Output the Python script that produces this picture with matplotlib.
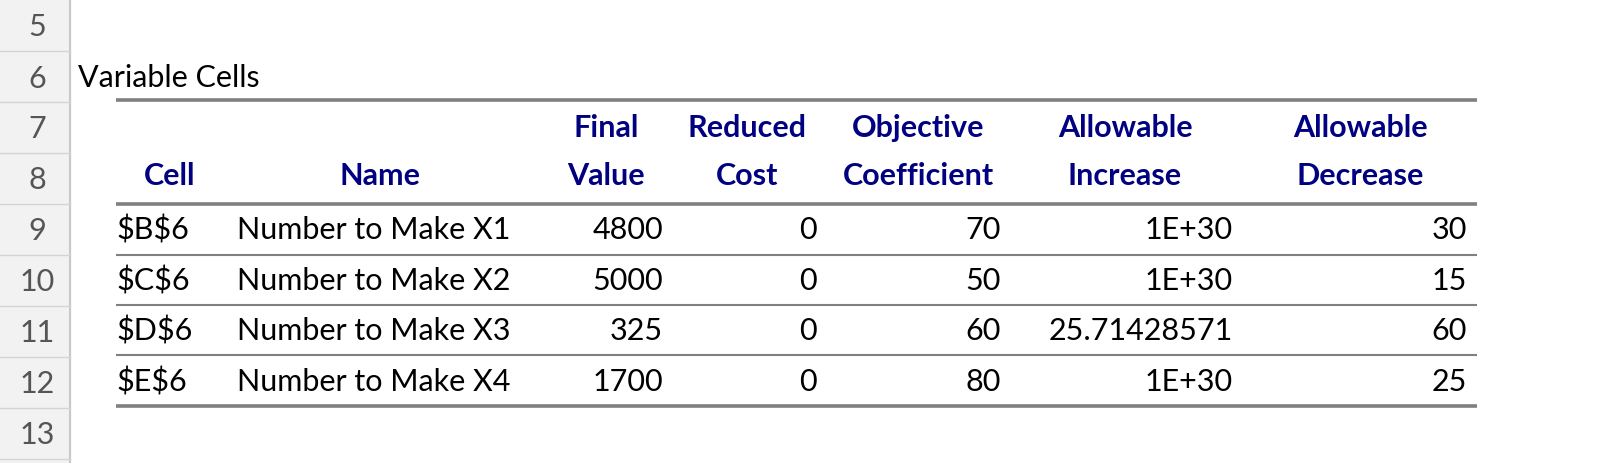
import matplotlib
matplotlib.use("Agg")
import matplotlib.pyplot as plt

row_numbers = [5, 6, 7, 8, 9, 10, 11, 12, 13]
cells = [r"\$B\$6", r"\$C\$6", r"\$D\$6", r"\$E\$6"]
names = ["Number to Make X1", "Number to Make X2", "Number to Make X3", "Number to Make X4"]
final_value = ["4800", "5000", "325", "1700"]
reduced_cost = ["0", "0", "0", "0"]
objective_coef = ["70", "50", "60", "80"]
allow_increase = ["1E+30", "1E+30", "25.71428571", "1E+30"]
allow_decrease = ["30", "15", "60", "25"]
headers1 = ["", "", "Final", "Reduced", "Objective", "Allowable", "Allowable"]
headers2 = ["Cell", "Name", "Value", "Cost", "Coefficient", "Increase", "Decrease"]

plt.rcParams['font.family'] = ['Lato', 'DejaVu Sans']
fig = plt.figure(figsize=(16.15, 4.64), dpi=100)
ax = fig.add_axes([0, 0, 1, 1])
ax.set_xlim(0, 1615); ax.set_ylim(464, 0); ax.axis('off')

fs = 22
ax.axvspan(0, 70, color='#f2f2f2', zorder=0)
ax.plot([70, 70], [0, 464], color='#c8c8c8', lw=1.5)
row_h = 51
top = 1
for i, rn in enumerate(row_numbers):
    yb = top + (i + 1) * row_h
    ax.plot([0, 70], [yb, yb], color='#d4d4d4', lw=1)
    ax.text(37, top + i * row_h + row_h / 2 + 1, str(rn), ha='center', va='center', fontsize=fs, color='#555555')

ax.text(78, 78, "Variable Cells", ha='left', va='center', fontsize=fs, color='black')

x0, x1 = 116, 1477
ax.plot([x0, x1], [101, 101], color='#808080', lw=2.6, solid_capstyle='butt')
ax.plot([x0, x1], [205, 205], color='#808080', lw=2.6, solid_capstyle='butt')
ax.plot([x0, x1], [407, 407], color='#808080', lw=2.6, solid_capstyle='butt')
for y in [256, 306, 356]:
    ax.plot([x0, x1], [y, y], color='#808080', lw=1.5, solid_capstyle='butt')

hx = [170, 380, 606, 747, 918, 1125, 1360]
navy = '#000080'
for x, h1, h2 in zip(hx, headers1, headers2):
    if h1:
        ax.text(x, 128, h1, ha='center', va='center', fontsize=fs, color=navy, fontweight='bold')
    ax.text(x, 176, h2, ha='center', va='center', fontsize=fs, color=navy, fontweight='bold')

ys = [230, 281, 331, 382]
cols = [final_value, reduced_cost, objective_coef, allow_increase, allow_decrease]
rights = [663, 817, 1001, 1233, 1467]
for i, y in enumerate(ys):
    ax.text(116, y, cells[i], ha='left', va='center', fontsize=fs)
    ax.text(237, y, names[i], ha='left', va='center', fontsize=fs)
    for col, xr in zip(cols, rights):
        ax.text(xr, y, col[i], ha='right', va='center', fontsize=fs)

fig.savefig("out.png", dpi=100, facecolor='white')
